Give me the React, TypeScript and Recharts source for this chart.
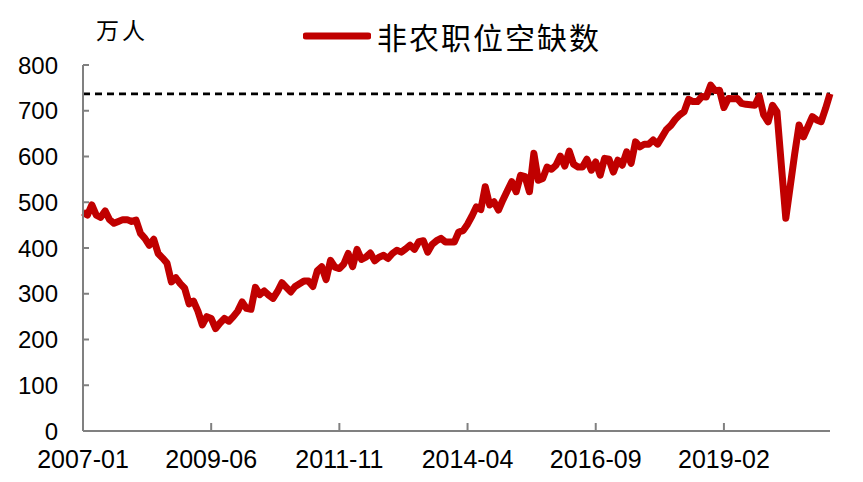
import React from "react";
import { LineChart, Line, XAxis, YAxis, ReferenceLine } from "recharts";

// 非农职位空缺数, monthly, 万人, 2007-01 .. 2021-02
const startYear = 2007;
const openings = [
  478, 472, 494, 472, 467, 481, 462, 454, 458, 462, 462, 458,
  461, 432, 421, 406, 419, 388, 378, 367, 326, 335, 322, 312,
  278, 284, 262, 232, 250, 246, 224, 236, 246, 240, 250, 262,
  282, 268, 266, 314, 298, 306, 297, 290, 305, 324, 314, 304,
  316, 322, 328, 328, 316, 350, 359, 331, 373, 358, 355, 365,
  388, 359, 397, 375, 380, 389, 372, 380, 384, 377, 388, 395,
  391, 398, 406, 397, 414, 416, 391, 408, 416, 421, 413, 413,
  413, 435, 438, 452, 470, 490, 484, 534, 494, 501, 483, 505,
  525, 545, 523, 559, 556, 523, 607, 548, 552, 577, 572, 581,
  601, 579, 612, 583, 577, 577, 594, 570, 588, 559, 596, 594,
  566, 592, 581, 610, 585, 632, 621, 627, 627, 636, 627, 643,
  659, 668, 681, 691, 698, 725, 720, 720, 731, 730, 756, 744,
  745, 707, 727, 726, 727, 716, 714, 713, 712, 732, 691, 676,
  712, 698, 580, 465, 535, 605, 669, 643, 665, 687, 680, 676,
  705, 737,
];
const xTicks = ["2007-01", "2009-06", "2011-11", "2014-04", "2016-09", "2019-02"];
const yTicks = [0, 100, 200, 300, 400, 500, 600, 700, 800];
const seriesName = "非农职位空缺数";
const unitLabel = "万人";

const data = openings.map((v, i) => {
  const y = startYear + Math.floor(i / 12);
  const m = (i % 12) + 1;
  return { month: `${y}-${m < 10 ? "0" + m : m}`, value: v };
});
const latest = openings[openings.length - 1];

const numFont = "'Liberation Sans', Arial, sans-serif";
const cjkFont = "'Noto Sans CJK SC', sans-serif";
const axisGray = "#808080";
const red = "#C00000";

export default function App() {
  return (
    <div style={{ position: "relative", width: 863, height: 482, background: "#fff" }}>
      <style>{"body{margin:0}"}</style>
      <div
        style={{
          position: "absolute",
          left: 96,
          top: 14,
          fontFamily: cjkFont,
          fontSize: 23,
          lineHeight: "30px",
          color: "#000",
          letterSpacing: 3,
        }}
      >
        {unitLabel}
      </div>
      <div style={{ position: "absolute", left: 303, top: 16, display: "flex", alignItems: "center" }}>
        <svg width={68} height={10}>
          <line x1={3} y1={5} x2={65} y2={5} stroke={red} strokeWidth={7} strokeLinecap="round" />
        </svg>
        <span
          style={{
            fontFamily: cjkFont,
            fontSize: 30,
            lineHeight: "40px",
            color: "#000",
            marginLeft: 6,
            letterSpacing: 2,
          }}
        >
          {seriesName}
        </span>
      </div>
      <LineChart width={863} height={482} data={data} margin={{ top: 65, right: 33, bottom: 0, left: 0 }}>
        <XAxis
          dataKey="month"
          ticks={xTicks}
          interval={0}
          axisLine={{ stroke: axisGray, strokeWidth: 2 }}
          tickLine={{ stroke: axisGray, strokeWidth: 2 }}
          tickSize={-8}
          tickMargin={27}
          tick={{ fill: "#000", fontSize: 25, fontFamily: numFont }}
          height={51}
        />
        <YAxis
          domain={[0, 800]}
          ticks={yTicks}
          interval={0}
          width={83}
          axisLine={{ stroke: axisGray, strokeWidth: 2 }}
          tickLine={{ stroke: axisGray, strokeWidth: 2 }}
          tickSize={-6}
          tickMargin={31}
          tick={{ fill: "#000", fontSize: 24, fontFamily: numFont }}
        />
        <ReferenceLine y={latest} stroke="#000" strokeWidth={2.8} strokeDasharray="7 5" />
        <Line
          type="linear"
          dataKey="value"
          name={seriesName}
          stroke={red}
          strokeWidth={7}
          dot={false}
          strokeLinejoin="round"
          isAnimationActive={false}
        />
      </LineChart>
    </div>
  );
}
